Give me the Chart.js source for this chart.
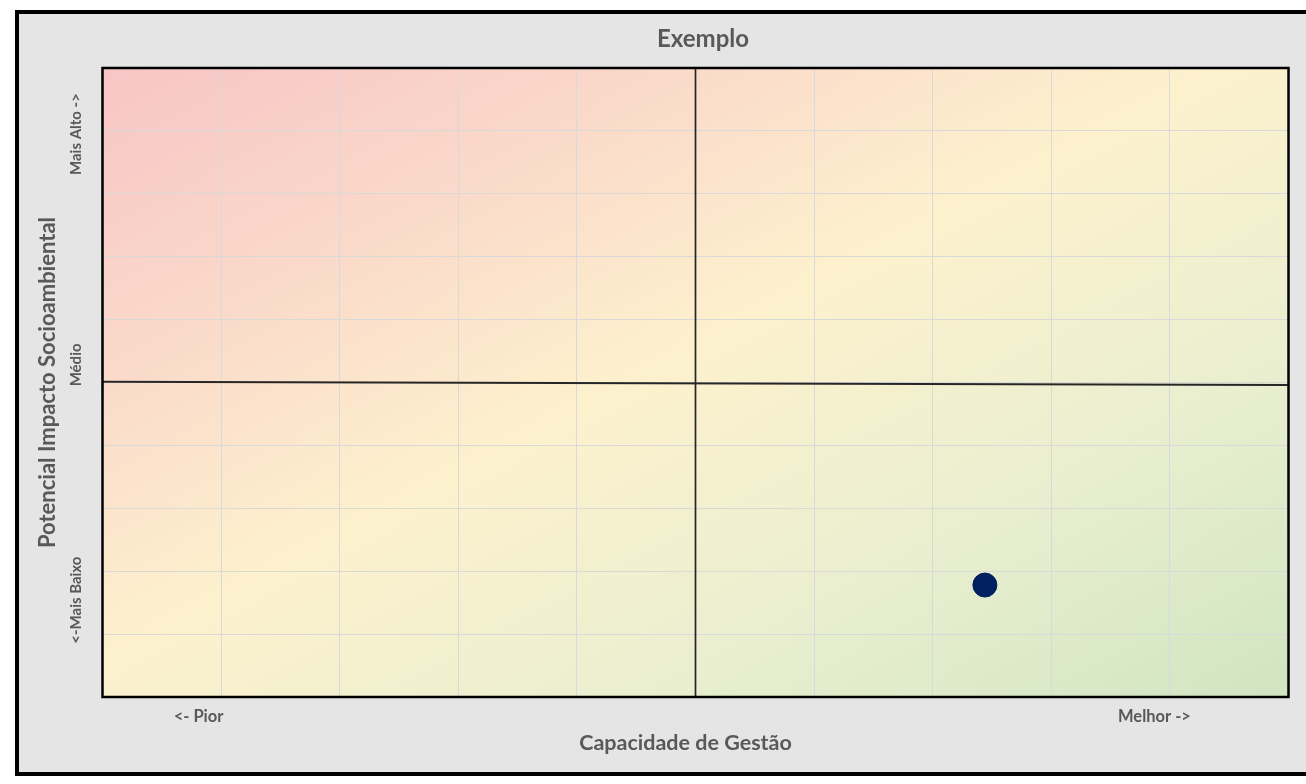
<!DOCTYPE html>
<html><head><meta charset="utf-8">
<script src="https://cdn.jsdelivr.net/npm/chart.js@4.4.0/dist/chart.umd.min.js"></script>
<style>
html,body{margin:0;padding:0;width:1306px;height:784px;overflow:hidden;background:#fff;}
#frame{position:absolute;left:15px;top:10px;width:1300px;height:758px;border:4px solid #000;background:#e5e5e5;}
#wrap{position:absolute;left:0;top:0;width:1306px;height:784px;}
</style></head><body>
<div id="frame"></div>
<div id="wrap"><canvas id="c" width="1306" height="784"></canvas></div>
<script>
// ---- data ----
const chartTitle = 'Exemplo';
const xAxisTitle = 'Capacidade de Gestão';
const yAxisTitle = 'Potencial Impacto Socioambiental';
const gridValues = [0, 1, 2, 3, 4, 5, 6, 7, 8, 9, 10];
const xLabelText = ['<- Pior', 'Melhor ->'];
const xLabelAt = [0.81, 8.87];
const yLabelText = ['<-Mais Baixo', 'Médio', 'Mais Alto ->'];
const yLabelAt = [1.54, 5.28, 8.95];
const pointX = [7.44];
const pointY = [1.78];
const vLineX = [5, 5];
const vLineY = [0, 10];
const hLineX = [0, 10];
const hLineY = [5.01, 4.96];

const FONT = 'Lato';
const TXT = '#595959';
const isGrid = v => gridValues.some(g => Math.abs(g - v) < 1e-9);
const labelFor = v => { const i = xLabelAt.findIndex(p => Math.abs(p - v) < 1e-9); return i >= 0 ? xLabelText[i] : ''; };

const bgPlugin = {
  id: 'bg',
  afterLayout(chart) {
    // centre the chart title on the outer frame, as in the original
    const tb = chart.titleBlock;
    if (tb) { tb.left = 15; tb.right = 1391; tb.width = tb.right - tb.left; }
  },
  beforeDraw(chart) {
    const {ctx, chartArea: a} = chart;
    const w = a.right - a.left, h = a.bottom - a.top;
    const cx = (a.left + a.right) / 2, cy = (a.top + a.bottom) / 2;
    const k = w * h / (w * w + h * h);
    const g = ctx.createLinearGradient(cx - h * k, cy - w * k, cx + h * k, cy + w * k);
    g.addColorStop(0, '#f7c5c5');
    g.addColorStop(0.25, '#fadaca');
    g.addColorStop(0.47, '#fdf1cd');
    g.addColorStop(0.72, '#eaefd0');
    g.addColorStop(1, '#d0e5c2');
    ctx.save();
    ctx.fillStyle = g;
    ctx.fillRect(a.left, a.top, w, h);
    ctx.restore();
  }
};
const frontPlugin = {
  id: 'front',
  afterDraw(chart) {
    const {ctx, chartArea: a} = chart;
    const ys = chart.scales.y;
    ctx.save();
    ctx.strokeStyle = '#000';
    ctx.lineWidth = 2.5;
    ctx.strokeRect(a.left, a.top, a.right - a.left, a.bottom - a.top);
    ctx.fillStyle = TXT;
    ctx.textAlign = 'center';
    ctx.textBaseline = 'middle';
    ctx.font = 'bold 15px ' + FONT;
    yLabelText.forEach((t, i) => {
      const py = ys.getPixelForValue(yLabelAt[i]);
      ctx.save();
      ctx.translate(a.left - 26, py);
      ctx.rotate(-Math.PI / 2);
      ctx.fillText(t, 0, 0);
      ctx.restore();
    });
    // x axis title
    ctx.font = 'bold 21.5px ' + FONT;
    ctx.fillText(xAxisTitle, (a.left + a.right) / 2 - 10, 743);
    ctx.restore();
  }
};

new Chart(document.getElementById('c'), {
  type: 'scatter',
  data: {
    datasets: [
      { label: 'h', type: 'line', data: hLineX.map((x, i) => ({x, y: hLineY[i]})), borderColor: '#262626', borderWidth: 2, pointRadius: 0, order: 2 },
      { label: 'v', type: 'line', data: vLineX.map((x, i) => ({x, y: vLineY[i]})), borderColor: '#262626', borderWidth: 1.7, pointRadius: 0, order: 2 },
      { label: 'Exemplo', data: pointX.map((x, i) => ({x, y: pointY[i]})), backgroundColor: '#002060', borderColor: '#002060', borderWidth: 1, pointRadius: 12, order: 0 }
    ]
  },
  options: {
    responsive: false, animation: false, devicePixelRatio: 1,
    layout: { padding: { left: 0, right: 17.5, top: 0, bottom: 0 } },
    plugins: {
      legend: { display: false }, tooltip: { enabled: false },
      title: { display: true, text: chartTitle, color: TXT,
        font: { family: FONT, size: 24, weight: 'bold', lineHeight: 1.2 },
        padding: { top: 25.1, bottom: 14.1 } }
    },
    scales: {
      x: {
        type: 'linear', min: 0, max: 10,
        afterBuildTicks: s => { s.ticks = [...gridValues, ...xLabelAt].sort((a, b) => a - b).map(v => ({value: v})); },
        afterFit: s => { s.height = 87; },
        ticks: { autoSkip: false, maxRotation: 0, minRotation: 0, padding: 10, color: TXT,
          font: { family: FONT, size: 16.5, weight: 'bold' }, callback: v => labelFor(v) },
        grid: { drawTicks: false, color: c => isGrid(c.tick.value) ? '#d9d9d9' : 'rgba(0,0,0,0)', lineWidth: 1 },
        border: { display: false },
        title: { display: false, text: xAxisTitle }
      },
      y: {
        type: 'linear', min: 0, max: 10,
        afterBuildTicks: s => { s.ticks = gridValues.map(v => ({value: v})); },
        afterFit: s => { s.width = 102.5; },
        ticks: { display: false },
        grid: { drawTicks: false, color: '#d9d9d9', lineWidth: 1 },
        border: { display: false },
        title: { display: true, text: yAxisTitle, color: TXT,
          font: { family: FONT, size: 22, weight: 'bold', lineHeight: 1.2 }, padding: { top: 34.8, bottom: 0 } }
      }
    }
  },
  plugins: [bgPlugin, frontPlugin]
});
</script>
</body></html>
